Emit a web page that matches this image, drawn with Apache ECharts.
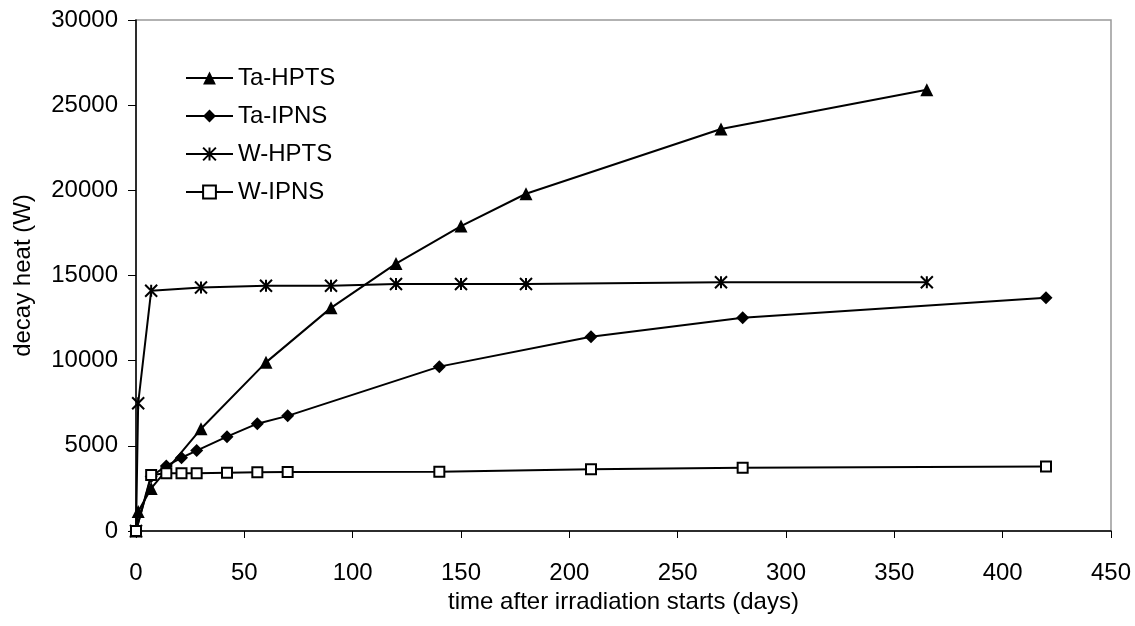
<!DOCTYPE html>
<html>
<head>
<meta charset="utf-8">
<title>decay heat</title>
<script src="https://cdn.jsdelivr.net/npm/echarts@6/dist/echarts.min.js"></script>
<style>
  html, body { margin: 0; padding: 0; background: #fff; }
  #chart { width: 1135px; height: 626px; }
</style>
</head>
<body>
<div id="chart"></div>
<script>
// Time after irradiation start (days) and decay heat (W) for each target/facility case
const taHptsDays  = [0, 1, 7, 30, 60, 90, 120, 150, 180, 270, 365];
const taHptsHeat  = [0, 1150, 2500, 6000, 9900, 13100, 15700, 17900, 19800, 23600, 25900];

const taIpnsDays  = [0, 7, 14, 21, 28, 42, 56, 70, 140, 210, 280, 420];
const taIpnsHeat  = [0, 3200, 3820, 4300, 4720, 5540, 6300, 6760, 9650, 11400, 12520, 13700];

const wHptsDays   = [0, 1, 7, 30, 60, 90, 120, 150, 180, 270, 365];
const wHptsHeat   = [0, 7500, 14100, 14300, 14400, 14400, 14500, 14500, 14500, 14600, 14600];

const wIpnsDays   = [0, 7, 14, 21, 28, 42, 56, 70, 140, 210, 280, 420];
const wIpnsHeat   = [0, 3290, 3390, 3390, 3390, 3420, 3450, 3470, 3480, 3620, 3720, 3780];

const seriesNames = ['Ta-HPTS', 'Ta-IPNS', 'W-HPTS', 'W-IPNS'];

const xTitle = 'time after irradiation starts (days)';
const yTitle = 'decay heat (W)';

function pairs(xs, ys) {
  return xs.map((x, i) => [x, ys[i]]);
}

const FONT = '"Liberation Sans", Arial, sans-serif';
const FS = 24;
const asterisk = 'path://M0,0L10,10M10,0L0,10M5,0L5,10';

const chart = echarts.init(document.getElementById('chart'), null, { renderer: 'canvas' });

const baseSeries = {
  type: 'line',
  showAllSymbol: true,
  animation: false,
  lineStyle: { color: '#000', width: 2 },
  emphasis: { disabled: true }
};

chart.setOption({
  backgroundColor: '#fff',
  animation: false,
  textStyle: { fontFamily: FONT, color: '#000' },
  grid: {
    left: 136, right: 24, top: 20, bottom: 95,
    show: true, borderColor: '#999', borderWidth: 1.5, backgroundColor: 'transparent'
  },
  legend: {
    orient: 'vertical',
    left: 180,
    top: 61,
    itemWidth: 47,
    itemHeight: 16,
    itemGap: 14,
    textStyle: { fontSize: FS, color: '#000', fontFamily: FONT },
    data: seriesNames
  },
  xAxis: {
    type: 'value',
    min: 0, max: 450, interval: 50,
    name: xTitle,
    nameLocation: 'middle',
    nameGap: 55,
    nameTextStyle: { fontSize: FS, color: '#000', fontFamily: FONT },
    axisLine: { show: true, onZero: false, lineStyle: { color: '#000', width: 1.5 } },
    axisTick: { show: true, length: 7, lineStyle: { color: '#000', width: 1 } },
    axisLabel: { fontSize: FS, color: '#000', margin: 30, fontFamily: FONT },
    splitLine: { show: false }
  },
  yAxis: {
    type: 'value',
    min: 0, max: 30000, interval: 5000,
    name: yTitle,
    nameLocation: 'middle',
    nameGap: 101,
    nameTextStyle: { fontSize: FS, color: '#000', fontFamily: FONT },
    axisLine: { show: true, onZero: false, lineStyle: { color: '#000', width: 1.5 } },
    axisTick: { show: true, length: 8, lineStyle: { color: '#000', width: 1 } },
    axisLabel: { fontSize: FS, color: '#000', margin: 18, fontFamily: FONT,
                 formatter: v => String(v) },
    splitLine: { show: false }
  },
  series: [
    Object.assign({}, baseSeries, {
      name: seriesNames[0],
      data: pairs(taHptsDays, taHptsHeat),
      symbol: 'triangle',
      symbolSize: 13,
      itemStyle: { color: '#000', borderColor: '#000', borderWidth: 0 }
    }),
    Object.assign({}, baseSeries, {
      name: seriesNames[1],
      data: pairs(taIpnsDays, taIpnsHeat),
      symbol: 'diamond',
      symbolSize: 13,
      itemStyle: { color: '#000', borderColor: '#000', borderWidth: 0 }
    }),
    Object.assign({}, baseSeries, {
      name: seriesNames[2],
      data: pairs(wHptsDays, wHptsHeat),
      symbol: asterisk,
      symbolSize: 12,
      itemStyle: { color: 'none', borderColor: '#000', borderWidth: 2 }
    }),
    Object.assign({}, baseSeries, {
      name: seriesNames[3],
      data: pairs(wIpnsDays, wIpnsHeat),
      symbol: 'rect',
      symbolSize: 10,
      itemStyle: { color: '#fff', borderColor: '#000', borderWidth: 2 }
    })
  ]
});
</script>
</body>
</html>
